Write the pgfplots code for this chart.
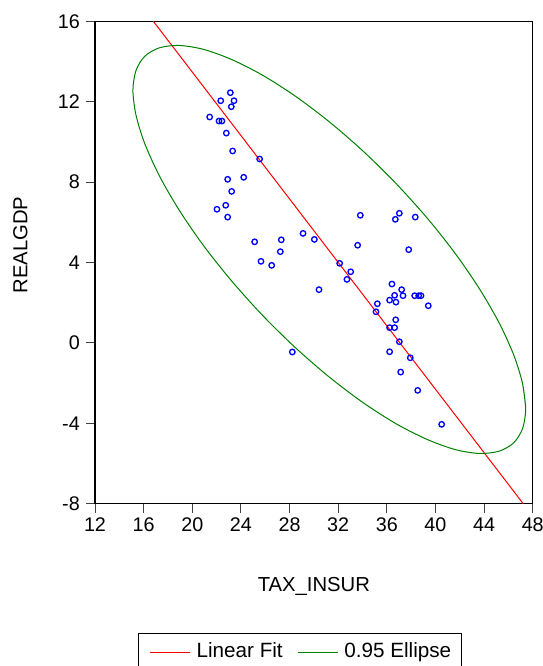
\documentclass[border=0pt]{standalone}
\usepackage{pgfplots}
\pgfplotsset{compat=1.18}
\usepackage{fontspec}
\setmainfont{Liberation Sans}
\definecolor{efit}{RGB}{255,0,0}
\definecolor{eell}{RGB}{0,128,0}
\definecolor{epts}{RGB}{0,0,255}
\begin{document}
\begin{tikzpicture}
\begin{axis}[
  name=ax, at={(0,0)}, anchor=south west,
  scale only axis, width=328.3pt, height=361.8pt,
  xmin=12, xmax=48, ymin=-8, ymax=16, clip=false,
  xtick={12,16,...,48}, ytick={-8,-4,...,16},
  tick pos=left, tick align=outside,
  major tick length=6.75pt,
  every tick/.style={black!75, line width=0.7pt},
  axis line style={line width=0.8pt},
  /pgf/number format/assume math mode=true,
  tick label style={font=\fontsize{14.8}{17}\selectfont, inner sep=0pt},
  yticklabel style={anchor=east, xshift=-4.5pt},
  xticklabel style={anchor=north, yshift=-3.5pt},
  xlabel={TAX\_INSUR}, ylabel={REALGDP},
  every axis x label/.style={at={(axis description cs:0.5,-0.1824)}, anchor=base, font=\fontsize{15.2}{18}\selectfont},
  every axis y label/.style={at={(axis description cs:-0.1703,0.536)}, rotate=90, anchor=center, font=\fontsize{15.2}{18}\selectfont},
  legend columns=2,
  legend style={at={(axis description cs:0.0998,-0.2687)}, anchor=north west,
    draw=none, fill=none, inner xsep=8pt, inner ysep=5pt,
    font=\fontsize{15.5}{18}\selectfont,
    /tikz/every odd column/.append style={column sep=2.5pt},
    /tikz/every even column/.append style={column sep=9pt}},
  legend image code/.code={\draw[#1] (0pt,-0.5pt) -- (30pt,-0.5pt);},
]
\addplot[only marks, mark=o, mark size=2.05pt, draw=epts, mark options={line width=1pt, draw=epts}, forget plot] coordinates {
(23.13,12.45) (22.34,12.05) (23.43,12.05) (23.21,11.75) (21.43,11.24)
(22.20,11.04) (22.44,11.04) (22.80,10.44) (23.32,9.55) (25.54,9.15)
(22.91,8.14) (24.23,8.24) (23.24,7.54) (22.75,6.85) (22.03,6.65)
(22.91,6.26) (25.13,5.03) (27.32,5.13) (27.24,4.54) (25.65,4.06)
(26.53,3.86) (29.11,5.45) (30.04,5.15) (33.82,6.35) (33.60,4.86)
(32.12,3.96) (33.03,3.54) (32.72,3.16) (30.42,2.65) (35.22,1.95)
(35.11,1.55) (28.23,-0.45) (37.03,6.45) (36.70,6.15) (38.34,6.26)
(37.80,4.64) (36.42,2.93) (37.22,2.65) (36.64,2.37) (37.33,2.35)
(36.23,2.13) (36.75,2.03) (38.29,2.35) (38.62,2.35) (38.81,2.35)
(39.41,1.85) (36.73,1.15) (36.23,0.76) (36.64,0.76) (37.03,0.06)
(36.23,-0.44) (37.93,-0.74) (37.14,-1.45) (38.54,-2.36) (40.51,-4.05)
};
\addplot[efit, draw=efit, line width=0.75pt] coordinates {(16.80,16) (47.22,-8)};
\addlegendentry{Linear Fit}
\addplot[eell, draw=eell, line width=0.75pt, smooth] coordinates {
(47.42,-3.27) (47.17,-2.04) (46.45,-0.62) (45.26,0.97) (43.64,2.67)
(41.65,4.43) (39.35,6.19) (36.79,7.91) (34.07,9.53) (31.27,11.00)
(28.47,12.28) (25.75,13.33) (23.20,14.11) (20.89,14.61) (18.90,14.80)
(17.28,14.68) (16.09,14.26) (15.37,13.55) (15.12,12.57) (15.37,11.34)
(16.09,9.92) (17.28,8.33) (18.90,6.63) (20.89,4.87) (23.20,3.11)
(25.75,1.39) (28.47,-0.23) (31.27,-1.70) (34.07,-2.98) (36.79,-4.03)
(39.35,-4.81) (41.65,-5.31) (43.64,-5.50) (45.26,-5.38) (46.45,-4.96)
(47.17,-4.25) (47.42,-3.27) (47.17,-2.04)
};
\addlegendentry{0.95 Ellipse}
\draw[black, line width=0.75pt] (axis description cs:0.0998,-0.2687) rectangle (axis description cs:0.8362,-0.345);
\end{axis}
\pgfresetboundingbox
\path[use as bounding box] (-71.25pt,-121.7pt) rectangle (335.25pt,377.8pt);
\end{tikzpicture}
\end{document}
